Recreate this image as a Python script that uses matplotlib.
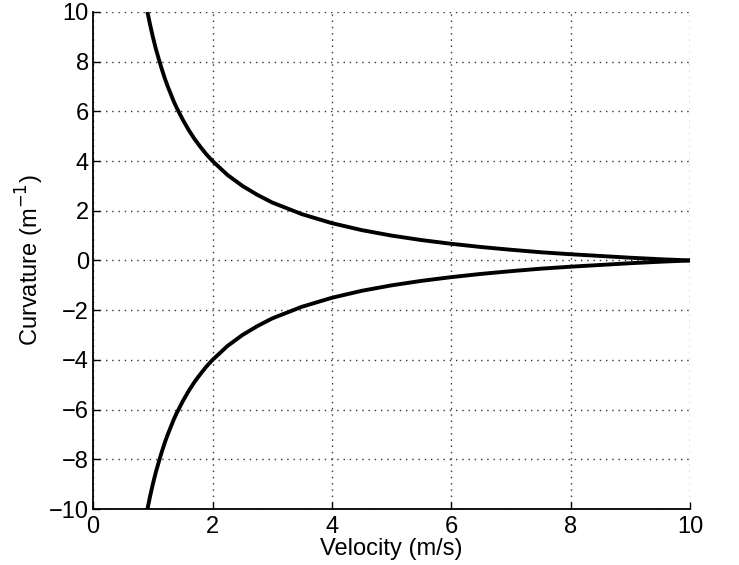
import matplotlib
matplotlib.use("Agg")
import matplotlib.pyplot as plt

# values
velocity = [0.91, 0.95, 1.0, 1.05, 1.1, 1.15, 1.2, 1.25, 1.3, 1.35, 1.4, 1.5, 1.6, 1.7,
            1.8, 1.9, 2.0, 2.25, 2.5, 2.75, 3.0, 3.5, 4.0, 4.5, 5.0, 5.5, 6.0, 6.5,
            7.0, 7.5, 8.0, 8.5, 9.0, 9.5, 10.0]
curv_pos = [10.0, 9.53, 9.0, 8.52, 8.1, 7.7, 7.33, 7.0, 6.7, 6.4, 6.14, 5.67, 5.25, 4.88,
            4.56, 4.26, 4.0, 3.44, 3.0, 2.64, 2.33, 1.86, 1.5, 1.22, 1.0, 0.82, 0.67, 0.54,
            0.43, 0.33, 0.25, 0.18, 0.11, 0.05, 0.0]
curv_neg = [-10.0, -9.53, -9.0, -8.52, -8.1, -7.7, -7.33, -7.0, -6.7, -6.4, -6.14, -5.67, -5.25, -4.88,
            -4.56, -4.26, -4.0, -3.44, -3.0, -2.64, -2.33, -1.86, -1.5, -1.22, -1.0, -0.82, -0.67, -0.54,
            -0.43, -0.33, -0.25, -0.18, -0.11, -0.05, 0.0]
xticks = [0, 2, 4, 6, 8, 10]
yticks = [-10, -8, -6, -4, -2, 0, 2, 4, 6, 8, 10]

plt.rcParams["font.family"] = ["Liberation Sans", "DejaVu Sans"]

fig = plt.figure(figsize=(7.39, 5.65), dpi=100)
ax = fig.add_axes([0.126, 0.099, 0.808, 0.880])
ax.plot(velocity, curv_pos, color="black", lw=2.8, solid_capstyle="butt")
ax.plot(velocity, curv_neg, color="black", lw=2.8, solid_capstyle="butt")

ax.set_xlim(0, 10)
ax.set_ylim(-10, 10)
ax.set_xticks(xticks)
ax.set_yticks(yticks)
ax.grid(True, linestyle=(0, (1, 3.5)), color="#333333", lw=1.0)
ax.tick_params(direction="in", length=5, width=1, labelsize=17, pad=3)
ax.tick_params(axis="x", pad=5)
for s in ("top", "right"):
    ax.spines[s].set_visible(False)
for s in ("left", "bottom"):
    ax.spines[s].set_linewidth(1.3)

ax.set_xlabel("Velocity (m/s)", fontsize=17, labelpad=0)
ax.set_ylabel("Curvature (m$^{-1}$)", fontsize=17, labelpad=2)

fig.savefig("out.png")
